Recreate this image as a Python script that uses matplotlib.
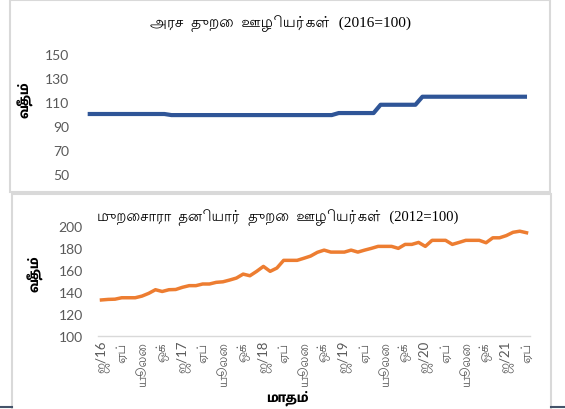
import matplotlib
matplotlib.use("Agg")
from matplotlib import pyplot as plt
from matplotlib.patches import Rectangle
from matplotlib.lines import Line2D

# monthly index, Jan 2016 .. Apr 2021
public_sector = [100, 100, 100, 100, 100, 100, 100, 100, 100, 100, 100, 100,
	99.1, 99.1, 99.1, 99.1, 99.1, 99.1, 99.1, 99.1, 99.1, 99.1, 99.1, 99.1,
	99.1, 99.1, 99.1, 99.1, 99.1, 99.1, 99.1, 99.1, 99.1, 99.1, 99.1, 99.1,
	100.8, 100.8, 100.8, 100.8, 100.8, 100.8, 107.7, 107.7, 107.7, 107.7, 107.7, 107.7,
	114.4, 114.4, 114.4, 114.4, 114.4, 114.4, 114.4, 114.4, 114.4, 114.4, 114.4, 114.4,
	114.4, 114.4, 114.4, 114.4]

private_sector = [132.5, 133, 133.2, 134.5, 134.5, 134.5, 136, 138.5, 141.8, 140.2, 141.8, 142,
	144, 145.5, 145.5, 147, 147, 148.5, 149, 150.6, 152.4, 156, 154.5, 158.5,
	163, 158.5, 161.5, 168.5, 168.5, 168.5, 170.4, 172.4, 175.8, 177.8, 176, 176,
	176, 177.8, 176, 177.8, 179.4, 181.2, 181.2, 181.2, 179.4, 183, 183, 184.8,
	181.2, 186.7, 186.7, 186.7, 183, 184.8, 186.7, 186.7, 186.7, 184.5, 189, 189,
	191, 194, 195, 193.6]

tick_labels = ["ஜ/16", "ஏப்", "யூலை", "ஒக்", "ஜ/17", "ஏப்", "யூலை", "ஒக்",
	"ஜ/18", "ஏப்", "யூலை", "ஒக்", "ஜ/19", "ஏப்", "யூலை", "ஒக்",
	"ஜ/20", "ஏப்", "யூலை", "ஒக்", "ஜ/21", "ஏப்"]

top_title = "அரச  துறை  ஊழியர்கள்  (2016=100)"
bottom_title = "முறைசாரா  தனியார்  துறை  ஊழியர்கள்  (2012=100)"
y_title = "வீதம்"
x_title = "மாதம்"

W, H = 565, 410
months = list(range(len(public_sector)))
tick_pos = months[::3]

tick_font = ["Lato", "Lohit Tamil"]
title_font = ["Liberation Serif", "Lohit Tamil"]
bold_font = ["Mukta Malar", "DejaVu Sans"]
grey = "#595959"

fig = plt.figure(figsize=(W / 100, H / 100), dpi=100)

def px(x0, y0, x1, y1):
	return [x0 / W, 1 - y1 / H, (x1 - x0) / W, (y1 - y0) / H]

# chart area frames
fig.patches.append(Rectangle((10 / W, 1 - 193 / H), 540 / W, 192 / H, transform=fig.transFigure,
	fill=False, edgecolor="#D9D9D9", lw=1.5))
fig.patches.append(Rectangle((12 / W, 1 - 412 / H), 539 / W, 217 / H, transform=fig.transFigure,
	fill=False, edgecolor="#D9D9D9", lw=1.5))
fig.lines.append(Line2D([0, 12 / W], [1 - 408 / H] * 2, transform=fig.transFigure, color="#44546A", lw=1.5))
fig.lines.append(Line2D([551 / W, 1], [1 - 408 / H] * 2, transform=fig.transFigure, color="#44546A", lw=1.5))

ax1 = fig.add_axes(px(84.2, 55, 530.5, 175))
ax1.plot(months, public_sector, color="#2F5597", lw=3, solid_capstyle="butt")
ax1.set_xlim(-0.5, 63.5)
ax1.set_ylim(50, 150)
ax1.set_yticks(range(50, 151, 20))
ax1.set_xticks([])
for s in ax1.spines.values():
	s.set_visible(False)
ax1.tick_params(axis="y", length=0, pad=11, labelsize=10, labelcolor=grey)
for t in ax1.get_yticklabels():
	t.set_family(tick_font)

ax2 = fig.add_axes(px(98.1, 226.7, 529.9, 336.7))
ax2.plot(months, private_sector, color="#ED7D31", lw=2.5)
ax2.set_xlim(-0.5, 63.5)
ax2.set_ylim(100, 200)
ax2.set_yticks(range(100, 201, 20))
ax2.set_xticks(tick_pos)
ax2.set_xticklabels(tick_labels, rotation=90, family=tick_font)
for k, s in ax2.spines.items():
	s.set_visible(k == "bottom")
ax2.spines["bottom"].set_color("#D9D9D9")
ax2.spines["bottom"].set_linewidth(1)
ax2.tick_params(axis="y", length=0, pad=11, labelsize=10, labelcolor=grey)
ax2.tick_params(axis="x", length=0, pad=3, labelsize=9.5, labelcolor=grey)
for t in ax2.get_yticklabels():
	t.set_family(tick_font)

fig.text(280 / W, 1 - 24 / H, top_title, ha="center", va="center", fontsize=11, family=title_font)
fig.text(97 / W, 1 - 218 / H, bottom_title, ha="left", va="center", fontsize=10.5, family=title_font)
fig.text(25 / W, 1 - 100 / H, y_title, ha="center", va="center", rotation=90, fontsize=11,
	fontweight=800, family=bold_font)
fig.text(35 / W, 1 - 274 / H, y_title, ha="center", va="center", rotation=90, fontsize=11,
	fontweight=800, family=bold_font)
fig.text(287 / W, 1 - 398 / H, x_title, ha="center", va="center", fontsize=11,
	fontweight=800, family=bold_font)

fig.savefig("out.png", dpi=100)
